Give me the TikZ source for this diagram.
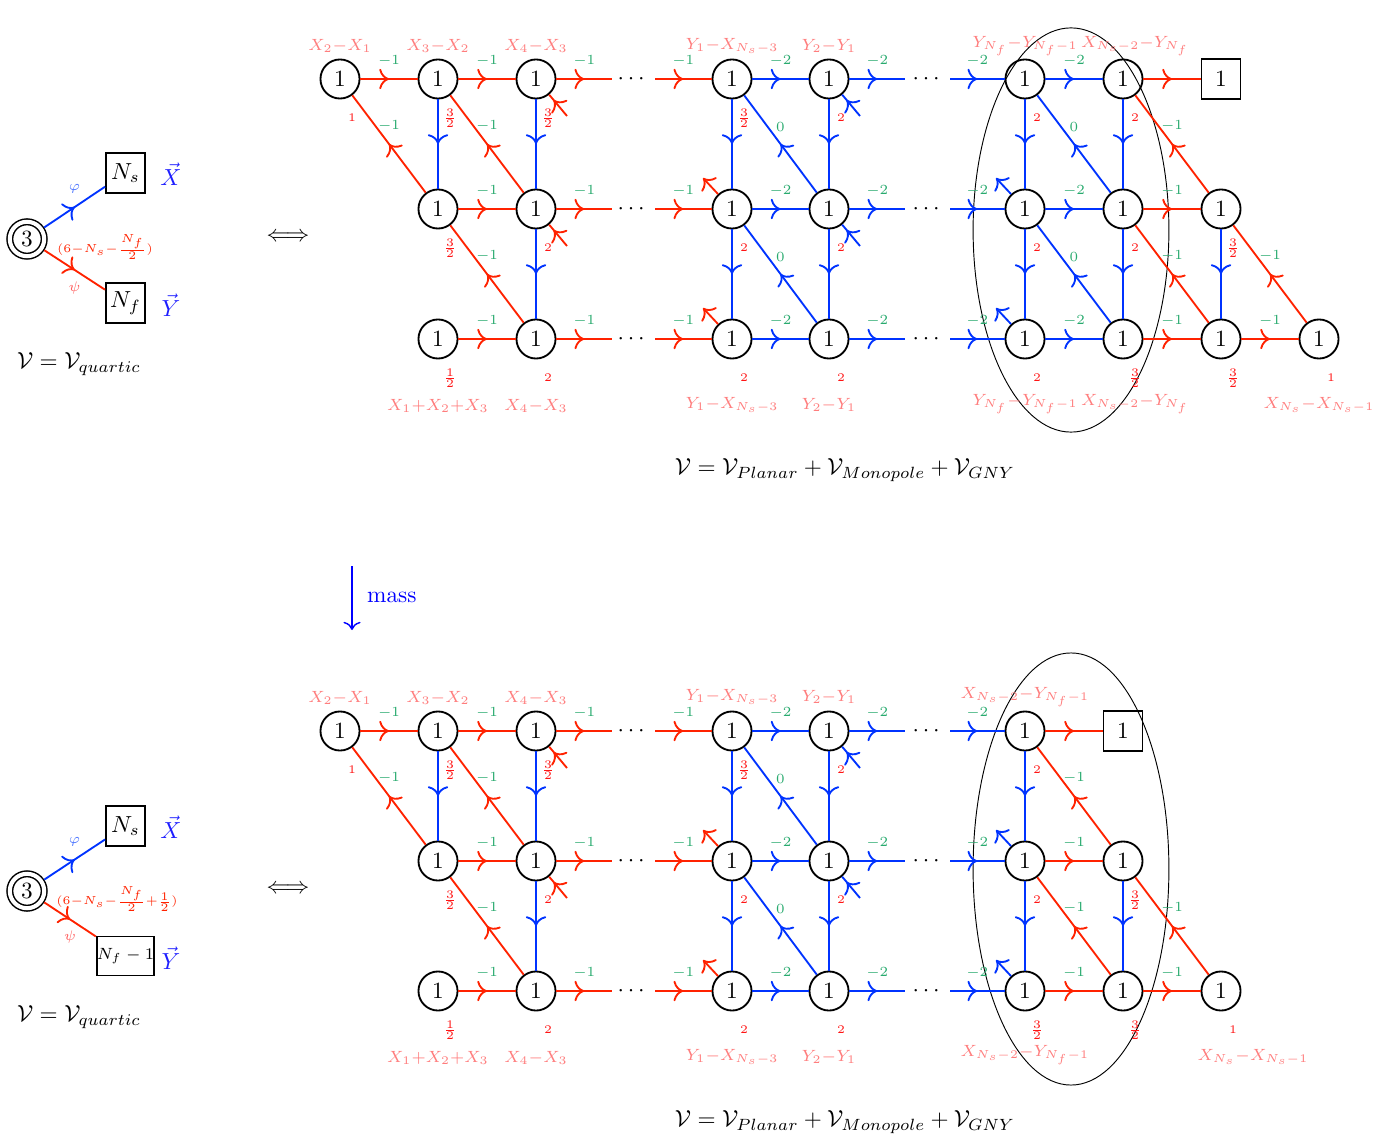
\documentclass[tikz,border=0pt]{standalone}
\usepackage{amsmath}
\usetikzlibrary{arrows.meta,decorations.markings}
\definecolor{cR}{RGB}{255,34,0}
\definecolor{cB}{RGB}{0,51,255}
\definecolor{cG}{RGB}{40,170,110}
\definecolor{cP}{RGB}{255,125,125}
\definecolor{cL}{RGB}{255,20,20}
\definecolor{cX}{RGB}{30,30,255}
\definecolor{cPhi}{RGB}{80,120,255}
\definecolor{cPsi}{RGB}{255,90,90}
\tikzset{
  mtip/.tip={Computer Modern Rightarrow[scale=1.25]},
  rtip/.tip={Computer Modern Rightarrow[scale=1.25,reversed]},
  qv/.style={circle, draw, line width=0.8pt, minimum size=16.8pt, inner sep=0pt},
  bx/.style={rectangle, draw, line width=0.8pt, minimum width=16.8pt, minimum height=17pt, inner sep=0pt},
  bxw/.style={rectangle, draw, line width=0.8pt, minimum width=21.9pt, minimum height=16.8pt, inner sep=0pt, font=\scriptsize},
  dc/.style={circle, draw, double, double distance=1.75pt, line width=0.65pt, minimum size=14.8pt, inner sep=0pt, outer sep=1.5pt},
  fr/.style={color=cR, line width=0.8pt, postaction={decorate}, decoration={markings, mark=at position 0.5 with {\arrow{mtip}}}},
  fb/.style={color=cB, line width=0.8pt, postaction={decorate}, decoration={markings, mark=at position 0.5 with {\arrow{mtip}}}},
  frs/.style={color=cR, line width=0.8pt, postaction={decorate}, decoration={markings, mark=at position 0.6 with {\arrow{rtip}}}},
  fbs/.style={color=cB, line width=0.8pt, postaction={decorate}, decoration={markings, mark=at position 0.6 with {\arrow{rtip}}}},
  fre/.style={color=cR, line width=0.8pt, arrows={-mtip}},
  fbe/.style={color=cB, line width=0.8pt, arrows={-mtip}},
  el/.style={text=cG, font=\fontsize{6}{7}\selectfont, above=4.4pt, inner sep=0.5pt},
  rl/.style={text=cL, font=\tiny, inner sep=0pt},
  pl/.style={text=cP, inner sep=0pt},
  phl/.style={text=cPhi, font=\fontsize{6}{7}\selectfont, above=5pt, inner sep=0.5pt},
  psl/.style={text=cPsi, font=\fontsize{6}{7}\selectfont, below=4pt, inner sep=0.5pt},
  dt/.style={inner sep=0pt},
  vecl/.style={text=cX, inner sep=0pt},
  ell/.style={draw=black, line width=0.4pt},
}
\newcommand\QN[4]{\node[qv] (#1) at (#2,#3) {$1$}; \node[rl] (#1l) at (#2+12,#3+39) {$#4$};}
\newcommand\ER[3]{\draw[fr] (#1) -- node[el] (#1#2) {$#3$} (#2);}
\newcommand\EB[3]{\draw[fb] (#1) -- node[el] (#1#2) {$#3$} (#2);}
\newcommand\VB[2]{\draw[fb] (#1) -- (#2);}
\newcommand\SDR[3]{\coordinate (#1s) at (#2+31,#3+37); \draw[frs] (#1) -- (#1s);}
\newcommand\SDB[3]{\coordinate (#1s) at (#2+31,#3+37); \draw[fbs] (#1) -- (#1s);}
\newcommand\SUR[3]{\coordinate (#1s) at (#2-29,#3-31); \draw[fre] (#1) -- (#1s);}
\newcommand\SUB[3]{\coordinate (#1s) at (#2-29,#3-31); \draw[fbe] (#1) -- (#1s);}
\newcommand\PL[4]{\node[pl] (#1) at (#2,#3) {$\scriptstyle #4$};}
\newcommand\ROWDOTS[2]{%
  \coordinate (#13-o) at (612,#2); \coordinate (#14-i) at (655,#2);
  \coordinate (#15-o) at (905,#2); \coordinate (#16-i) at (950,#2);
  \node[dt] (#1d1) at (633,#2) {$\cdots$}; \node[dt] (#1d2) at (928,#2) {$\cdots$};}
\begin{document}
\begin{tikzpicture}[x=0.43pt,y=-0.43pt]
\useasboundingbox (0,0) rectangle (1395,1139);

% ================= TOP =================
\draw[ell] (1071,230) ellipse [x radius=42.1pt, y radius=86.9pt];
% left quiver
\node[dc] (a3c) at (27,239) {$3$};
\node[bx] (aNs) at (125.5,173) {$N_s$};
\node[bx] (aNf) at (125.5,303) {$N_f$};
\draw[fb] (a3c) -- node[phl] (aphi) {$\varphi$} (aNs);
\draw[fr] (a3c) -- node[psl] (apsi) {$\psi$} (aNf);
\node[text=cR, inner sep=0pt] (aR) at (105,247) {$\scriptscriptstyle(6-N_s-\frac{N_f}{2})$};
\node[vecl] (aX) at (171,174) {$\vec{X}$};
\node[vecl] (aY) at (171,305) {$\vec{Y}$};
\node (aV) at (79,364) {$\mathcal{V}=\mathcal{V}_{quartic}$};
\node (aeq) at (288,237) {$\Longleftrightarrow$};
% nodes
\QN{a1t}{340}{79}{1}
\QN{a2t}{438}{79}{\frac32}
\QN{a3t}{536}{79}{\frac32}
\QN{a4t}{732}{79}{\frac32}
\QN{a5t}{829}{79}{2}
\QN{a6t}{1025}{79}{2}
\QN{a7t}{1123}{79}{2}
\node[bx] (a8t) at (1221,79) {$1$};
\QN{a2m}{438}{209}{\frac32}
\QN{a3m}{536}{209}{2}
\QN{a4m}{732}{209}{2}
\QN{a5m}{829}{209}{2}
\QN{a6m}{1025}{209}{2}
\QN{a7m}{1123}{209}{2}
\QN{a8m}{1221}{209}{\frac32}
\QN{a2b}{438}{339}{\frac12}
\QN{a3b}{536}{339}{2}
\QN{a4b}{732}{339}{2}
\QN{a5b}{829}{339}{2}
\QN{a6b}{1025}{339}{2}
\QN{a7b}{1123}{339}{\frac32}
\QN{a8b}{1221}{339}{\frac32}
\QN{a9b}{1319}{339}{1}
\ROWDOTS{at}{79}
\ROWDOTS{am}{209}
\ROWDOTS{ab}{339}
% horizontal
\ER{a1t}{a2t}{-1} \ER{a2t}{a3t}{-1} \ER{a3t}{at3-o}{-1} \ER{at4-i}{a4t}{-1}
\EB{a4t}{a5t}{-2} \EB{a5t}{at5-o}{-2} \EB{at6-i}{a6t}{-2} \EB{a6t}{a7t}{-2}
\draw[fr] (a7t) -- (a8t);
\ER{a2m}{a3m}{-1} \ER{a3m}{am3-o}{-1} \ER{am4-i}{a4m}{-1}
\EB{a4m}{a5m}{-2} \EB{a5m}{am5-o}{-2} \EB{am6-i}{a6m}{-2} \EB{a6m}{a7m}{-2}
\ER{a7m}{a8m}{-1}
\ER{a2b}{a3b}{-1} \ER{a3b}{ab3-o}{-1} \ER{ab4-i}{a4b}{-1}
\EB{a4b}{a5b}{-2} \EB{a5b}{ab5-o}{-2} \EB{ab6-i}{a6b}{-2} \EB{a6b}{a7b}{-2}
\ER{a7b}{a8b}{-1} \ER{a8b}{a9b}{-1}
% vertical
\VB{a2t}{a2m} \VB{a3t}{a3m} \VB{a3m}{a3b} \VB{a4t}{a4m} \VB{a4m}{a4b}
\VB{a5t}{a5m} \VB{a5m}{a5b} \VB{a6t}{a6m} \VB{a6m}{a6b} \VB{a7t}{a7m} \VB{a7m}{a7b}
\VB{a8m}{a8b}
% diagonal
\ER{a2m}{a1t}{-1} \ER{a3m}{a2t}{-1} \ER{a3b}{a2m}{-1}
\EB{a5m}{a4t}{0} \EB{a5b}{a4m}{0} \EB{a7m}{a6t}{0} \EB{a7b}{a6m}{0}
\ER{a8m}{a7t}{-1} \ER{a8b}{a7m}{-1} \ER{a9b}{a8m}{-1}
% stubs
\SDR{a3t}{536}{79} \SDR{a3m}{536}{209} \SDB{a5t}{829}{79} \SDB{a5m}{829}{209}
\SUR{a4m}{732}{209} \SUR{a4b}{732}{339} \SUB{a6m}{1025}{209} \SUB{a6b}{1025}{339}
% pink labels
\PL{apt1}{340}{46}{X_2-X_1}
\PL{apt2}{438}{46}{X_3-X_2}
\PL{apt3}{536}{46}{X_4-X_3}
\PL{apt4}{732}{46}{Y_1-X_{N_s-3}}
\PL{apt5}{829}{46}{Y_2-Y_1}
\PL{apt6}{1025}{46}{Y_{N_f}-Y_{N_f-1}}
\PL{apt7}{1135}{46}{X_{N_s-2}-Y_{N_f}}
\PL{apb2}{438}{406}{X_1+X_2+X_3}
\PL{apb3}{536}{406}{X_4-X_3}
\PL{apb4}{732}{405}{Y_1-X_{N_s-3}}
\PL{apb5}{829}{405}{Y_2-Y_1}
\PL{apb6}{1025}{404}{Y_{N_f}-Y_{N_f-1}}
\PL{apb7}{1135}{404}{X_{N_s-2}-Y_{N_f}}
\PL{apb9}{1319}{405}{X_{N_s}-X_{N_s-1}}
\node (aVP) at (845,470) {$\mathcal{V}=\mathcal{V}_{Planar}+\mathcal{V}_{Monopole}+\mathcal{V}_{GNY}$};

% ================= MASS =================
\coordinate (m1) at (352,566);
\coordinate (m2) at (352,630);
\draw[blue, line width=0.6pt, arrows={-Computer Modern Rightarrow[scale=1.2]}] (m1) -- (m2);
\node[text=blue, anchor=west] (mass) at (359,597) {mass};

% ================= BOTTOM =================
\begin{scope}[shift={(0,652)}]
\draw[ell] (1071,217) ellipse [x radius=42.1pt, y radius=92.9pt];
\node[dc] (b3c) at (27,239) {$3$};
\node[bx] (bNs) at (125.5,174) {$N_s$};
\node[bxw] (bNf) at (125.5,304) {$N_f - 1$};
\draw[fb] (b3c) -- node[phl] (bphi) {$\varphi$} (bNs);
\draw[fr] (b3c) -- node[psl] (bpsi) {$\psi$} (bNf);
\node[text=cR, inner sep=0pt] (bR) at (117,247) {$\scriptscriptstyle(6-N_s-\frac{N_f}{2}+\frac{1}{2})$};
\node[vecl] (bX) at (171,175) {$\vec{X}$};
\node[vecl] (bY) at (171,306) {$\vec{Y}$};
\node (bV) at (79,365) {$\mathcal{V}=\mathcal{V}_{quartic}$};
\node (beq) at (288,237) {$\Longleftrightarrow$};
% nodes
\QN{b1t}{340}{79}{1}
\QN{b2t}{438}{79}{\frac32}
\QN{b3t}{536}{79}{\frac32}
\QN{b4t}{732}{79}{\frac32}
\QN{b5t}{829}{79}{2}
\QN{b6t}{1025}{79}{2}
\node[bx] (b7t) at (1123,79) {$1$};
\QN{b2m}{438}{209}{\frac32}
\QN{b3m}{536}{209}{2}
\QN{b4m}{732}{209}{2}
\QN{b5m}{829}{209}{2}
\QN{b6m}{1025}{209}{2}
\QN{b7m}{1123}{209}{\frac32}
\QN{b2b}{438}{339}{\frac12}
\QN{b3b}{536}{339}{2}
\QN{b4b}{732}{339}{2}
\QN{b5b}{829}{339}{2}
\QN{b6b}{1025}{339}{\frac32}
\QN{b7b}{1123}{339}{\frac32}
\QN{b8b}{1221}{339}{1}
\ROWDOTS{bt}{79}
\ROWDOTS{bm}{209}
\ROWDOTS{bb}{339}
% horizontal
\ER{b1t}{b2t}{-1} \ER{b2t}{b3t}{-1} \ER{b3t}{bt3-o}{-1} \ER{bt4-i}{b4t}{-1}
\EB{b4t}{b5t}{-2} \EB{b5t}{bt5-o}{-2} \EB{bt6-i}{b6t}{-2}
\draw[fr] (b6t) -- (b7t);
\ER{b2m}{b3m}{-1} \ER{b3m}{bm3-o}{-1} \ER{bm4-i}{b4m}{-1}
\EB{b4m}{b5m}{-2} \EB{b5m}{bm5-o}{-2} \EB{bm6-i}{b6m}{-2}
\ER{b6m}{b7m}{-1}
\ER{b2b}{b3b}{-1} \ER{b3b}{bb3-o}{-1} \ER{bb4-i}{b4b}{-1}
\EB{b4b}{b5b}{-2} \EB{b5b}{bb5-o}{-2} \EB{bb6-i}{b6b}{-2}
\ER{b6b}{b7b}{-1} \ER{b7b}{b8b}{-1}
% vertical
\VB{b2t}{b2m} \VB{b3t}{b3m} \VB{b3m}{b3b} \VB{b4t}{b4m} \VB{b4m}{b4b}
\VB{b5t}{b5m} \VB{b5m}{b5b} \VB{b6t}{b6m} \VB{b6m}{b6b} \VB{b7m}{b7b}
% diagonal
\ER{b2m}{b1t}{-1} \ER{b3m}{b2t}{-1} \ER{b3b}{b2m}{-1}
\EB{b5m}{b4t}{0} \EB{b5b}{b4m}{0}
\ER{b7m}{b6t}{-1} \ER{b7b}{b6m}{-1} \ER{b8b}{b7m}{-1}
% stubs
\SDR{b3t}{536}{79} \SDR{b3m}{536}{209} \SDB{b5t}{829}{79} \SDB{b5m}{829}{209}
\SUR{b4m}{732}{209} \SUR{b4b}{732}{339} \SUB{b6m}{1025}{209} \SUB{b6b}{1025}{339}
% pink labels
\PL{bpt1}{340}{46}{X_2-X_1}
\PL{bpt2}{438}{46}{X_3-X_2}
\PL{bpt3}{536}{46}{X_4-X_3}
\PL{bpt4}{732}{45}{Y_1-X_{N_s-3}}
\PL{bpt5}{829}{45}{Y_2-Y_1}
\PL{bpt6}{1025}{45}{X_{N_s-2}-Y_{N_f-1}}
\PL{bpb2}{438}{406}{X_1+X_2+X_3}
\PL{bpb3}{536}{406}{X_4-X_3}
\PL{bpb4}{732}{405}{Y_1-X_{N_s-3}}
\PL{bpb5}{829}{405}{Y_2-Y_1}
\PL{bpb6}{1025}{403}{X_{N_s-2}-Y_{N_f-1}}
\PL{bpb8}{1253}{405}{X_{N_s}-X_{N_s-1}}
\node (bVP) at (845,470) {$\mathcal{V}=\mathcal{V}_{Planar}+\mathcal{V}_{Monopole}+\mathcal{V}_{GNY}$};
\end{scope}
\end{tikzpicture}
\end{document}
